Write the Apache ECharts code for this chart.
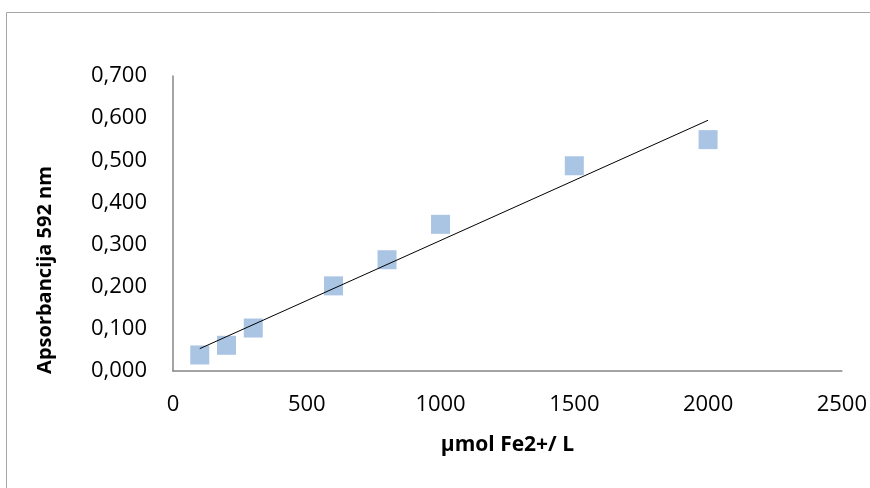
<!DOCTYPE html>
<html>
<head>
<meta charset="utf-8">
<script src="https://cdn.jsdelivr.net/npm/echarts@6/dist/echarts.min.js"></script>
<style>html,body{margin:0;padding:0;background:#fff;}#c{width:870px;height:488px;}</style>
</head>
<body>
<div id="c"></div>
<script>
var xValues = [100, 200, 300, 600, 800, 1000, 1500, 2000];
var yValues = [0.038, 0.061, 0.102, 0.202, 0.264, 0.348, 0.487, 0.549];
var trendX = [100, 2000];
var trendY = [0.053, 0.595];
var xTitle = 'µmol Fe2+/ L';
var yTitle = 'Apsorbancija 592 nm';

var pts = xValues.map(function (x, i) { return [x, yValues[i]]; });
var trend = trendX.map(function (x, i) { return [x, trendY[i]]; });
var font = '"Open Sans", Lato, sans-serif';

var chart = echarts.init(document.getElementById('c'));
chart.setOption({
  animation: false,
  backgroundColor: '#fff',
  grid: { left: 173, right: 27, top: 76, bottom: 117, containLabel: false },
  xAxis: {
    type: 'value', min: 0, max: 2500, interval: 500,
    axisLine: { show: true, lineStyle: { color: '#868686', width: 1.5 } },
    axisTick: { show: false },
    splitLine: { show: false },
    axisLabel: { color: '#000', fontFamily: font, fontSize: 22, margin: 23,
      formatter: function (v) { return String(v); } },
    name: xTitle, nameLocation: 'middle', nameGap: 64,
    nameTextStyle: { color: '#000', fontFamily: font, fontSize: 21, fontWeight: 'bold' }
  },
  yAxis: {
    type: 'value', min: 0, max: 0.7, interval: 0.1,
    axisLine: { show: true, lineStyle: { color: '#868686', width: 1.5 } },
    axisTick: { show: false },
    splitLine: { show: false },
    axisLabel: {
      color: '#000', fontFamily: font, fontSize: 22, margin: 26,
      formatter: function (v) { return v.toFixed(3).replace('.', ','); }
    }
  },
  graphic: [
    { type: 'rect', shape: { x: 6.5, y: 12.5, width: 900, height: 520 },
      style: { fill: null, stroke: '#A6A6A6', lineWidth: 1 }, silent: true, z: -1 },
    { type: 'text', x: 45, y: 270, rotation: Math.PI / 2,
      style: { text: yTitle, fill: '#000', font: 'bold 20px ' + font, textAlign: 'center', textVerticalAlign: 'middle' } }
  ],
  series: [
    { type: 'scatter', data: pts, symbol: 'rect', symbolSize: 19,
      itemStyle: { color: '#95B5DD' }, z: 2 },
    { type: 'line', data: trend, showSymbol: false, symbol: 'none',
      lineStyle: { color: '#000', width: 1 }, z: 3 }
  ]
});
</script>
</body>
</html>
